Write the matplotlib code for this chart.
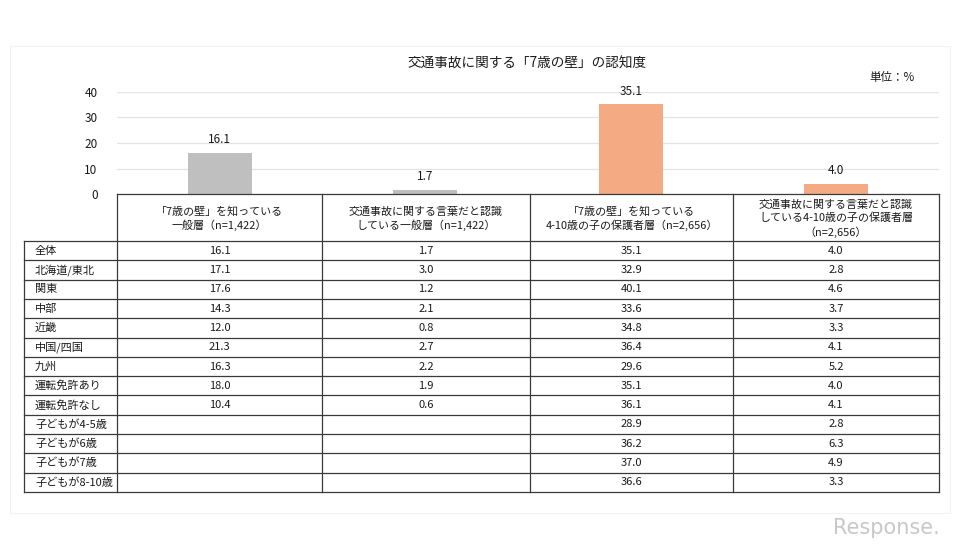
import matplotlib

matplotlib.use("Agg")
import matplotlib.pyplot as plt
from matplotlib.patches import Rectangle

plt.rcParams["font.family"] = ["Noto Sans CJK JP", "DejaVu Sans"]

# data
col_headers = [
    "「7歳の壁」を知っている\n一般層（n=1,422）",
    "交通事故に関する言葉だと認識\nしている一般層（n=1,422）",
    "「7歳の壁」を知っている\n4-10歳の子の保護者層（n=2,656）",
    "交通事故に関する言葉だと認識\nしている4-10歳の子の保護者層\n（n=2,656）",
]
row_labels = ["全体", "北海道/東北", "関東", "中部", "近畿", "中国/四国", "九州",
              "運転免許あり", "運転免許なし", "子どもが4-5歳", "子どもが6歳",
              "子どもが7歳", "子どもが8-10歳"]
general_know = [16.1, 17.1, 17.6, 14.3, 12.0, 21.3, 16.3, 18.0, 10.4, None, None, None, None]
general_traffic = [1.7, 3.0, 1.2, 2.1, 0.8, 2.7, 2.2, 1.9, 0.6, None, None, None, None]
parent_know = [35.1, 32.9, 40.1, 33.6, 34.8, 36.4, 29.6, 35.1, 36.1, 28.9, 36.2, 37.0, 36.6]
parent_traffic = [4.0, 2.8, 4.6, 3.7, 3.3, 4.1, 5.2, 4.0, 4.1, 2.8, 6.3, 4.9, 3.3]
columns = [general_know, general_traffic, parent_know, parent_traffic]
bar_values = [c[0] for c in columns]
bar_colors = ["#BFBFBF", "#BFBFBF", "#F4AA83", "#F4AA83"]
y_ticks = [0, 10, 20, 30, 40]

W, H = 968, 548
fig = plt.figure(figsize=(W / 100, H / 100), dpi=100)

# pixel layout
col_x = [117, 322, 530, 733, 939]
label_x0 = 24
head_top, head_bot = 194, 241
table_bot = 492
top40 = 92
text_c = "#1a1a1a"
line_c = "#3a3a3a"

# bar chart
ax = fig.add_axes([col_x[0] / W, 1 - head_top / H,
                   (col_x[-1] - col_x[0]) / W, (head_top - top40) / H])
xs = range(len(bar_values))
bars = ax.bar(xs, bar_values, width=0.31, color=bar_colors, zorder=2)
ax.bar_label(bars, labels=[f"{v:.1f}" for v in bar_values], padding=5,
             fontsize=8.5, color=text_c)
ax.set_xlim(-0.5, len(bar_values) - 0.5)
ax.set_ylim(0, 40)
ax.set_yticks(y_ticks)
ax.set_xticks([])
ax.tick_params(axis="y", length=0, labelsize=8.5, labelcolor=text_c, pad=14)
ax.grid(axis="y", color="#E3E3E3", linewidth=0.9, zorder=0)
for s in ax.spines.values():
    s.set_visible(False)
ax.patch.set_alpha(0)

# overlay in pixel coordinates for frame, title and table
ov = fig.add_axes([0, 0, 1, 1], zorder=-1)
ov.set_xlim(0, W)
ov.set_ylim(H, 0)
ov.axis("off")
ov.add_patch(Rectangle((10, 46), 940, 467, fill=False, edgecolor="#F2F2F2", lw=0.8))

fig.text(527 / W, 1 - 64 / H, "交通事故に関する「7歳の壁」の認知度", ha="center", va="center",
         fontsize=9.8, color=text_c)
fig.text(915 / W, 1 - 78 / H, "単位：%", ha="right", va="center", fontsize=8.3, color=text_c)

tab = fig.add_axes([0, 0, 1, 1])
tab.set_xlim(0, W)
tab.set_ylim(H, 0)
tab.axis("off")

lw = 0.9
n_rows = len(row_labels)
row_h = (table_bot - head_bot) / n_rows
tab.plot([col_x[0], col_x[-1]], [head_top, head_top], color=line_c, lw=lw)
for x in col_x:
    tab.plot([x, x], [head_top, table_bot], color=line_c, lw=lw)
tab.plot([label_x0, label_x0], [head_bot, table_bot], color=line_c, lw=lw)
for i in range(n_rows + 1):
    y = head_bot + i * row_h
    tab.plot([label_x0, col_x[-1]], [y, y], color=line_c, lw=lw)

for j, h in enumerate(col_headers):
    cx = (col_x[j] + col_x[j + 1]) / 2
    tab.text(cx, (head_top + head_bot) / 2 + 1, h, ha="center", va="center",
             fontsize=7.9, color=text_c, linespacing=1.35)

for i, lab in enumerate(row_labels):
    cy = head_bot + (i + 0.5) * row_h
    tab.text(label_x0 + 11, cy, lab, ha="left", va="center", fontsize=8.0, color=text_c)
    for j, col in enumerate(columns):
        v = col[i]
        if v is None:
            continue
        cx = (col_x[j] + col_x[j + 1]) / 2
        tab.text(cx, cy, f"{v:.1f}", ha="center", va="center", fontsize=8, color=text_c)

fig.text(940 / W, 1 - 528 / H, "Response.", ha="right", va="center", fontsize=15,
         color="#C8C8C8", family="DejaVu Sans")

fig.savefig("out.png", dpi=100, facecolor="white")
